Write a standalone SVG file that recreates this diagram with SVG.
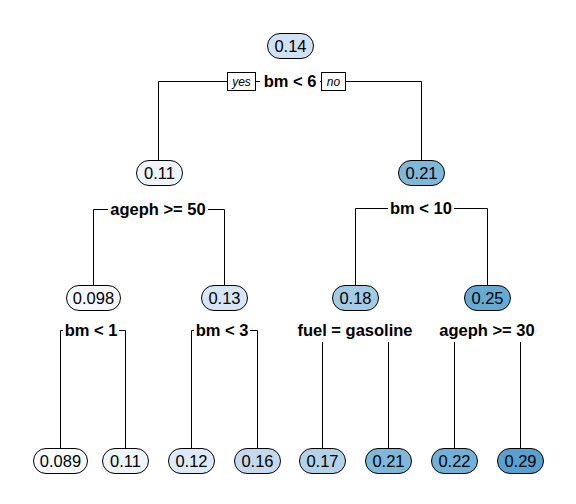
<svg xmlns="http://www.w3.org/2000/svg" width="576" height="504" viewBox="0 0 576 504">
<style>
.n{stroke:#000;stroke-width:1}
.v{font-family:"Liberation Sans",Arial,sans-serif;font-size:16.5px;text-anchor:middle;fill:#000}
.s{font-family:"Liberation Sans",Arial,sans-serif;font-size:16.5px;font-weight:bold;text-anchor:middle;fill:#000}
.yn{font-family:"Liberation Sans",Arial,sans-serif;font-size:12px;font-style:italic;text-anchor:middle;fill:#000}
.c{stroke:#000;stroke-width:1;fill:none}
.bg{fill:#fff}
</style>
<rect width="576" height="504" fill="#fff"/>
<g id="connectors">
<path class="c" d="M158.5 160V81.5H421.5V160"/>
<path class="c" d="M93.5 285V209.5H224.5V285"/>
<path class="c" d="M355.5 285V208.5H487.5V285"/>
<path class="c" d="M60.5 448V330.5H125.5V448"/>
<path class="c" d="M191.5 448V330.5H257.5V448"/>
<path class="c" d="M322.5 448V330.5H388.5V448"/>
<path class="c" d="M454.5 448V330.5H520.5V448"/>
</g>
<g id="split-root">
<rect class="bg" x="260" y="71" width="60" height="20"/>
<text class="s" x="290" y="87">bm &lt; 6</text>
<rect x="227.5" y="72.5" width="28" height="18" fill="#fff" stroke="#000"/>
<text class="yn" x="241.5" y="86">yes</text>
<rect x="321.5" y="72.5" width="24" height="18" fill="#fff" stroke="#000"/>
<text class="yn" x="333.5" y="86">no</text>
</g>
<g id="split-ageph50">
<rect class="bg" x="108" y="200" width="100" height="20"/>
<text class="s" x="158" y="215">ageph &gt;= 50</text>
</g>
<g id="split-bm10">
<rect class="bg" x="388" y="199" width="66" height="20"/>
<text class="s" x="421" y="214">bm &lt; 10</text>
</g>
<g id="split-bm1">
<rect class="bg" x="63" y="321" width="56" height="20"/>
<text class="s" x="91" y="336">bm &lt; 1</text>
</g>
<g id="split-bm3">
<rect class="bg" x="194" y="321" width="56" height="20"/>
<text class="s" x="222" y="336">bm &lt; 3</text>
</g>
<g id="split-fuel">
<rect class="bg" x="295" y="321" width="120" height="21"/>
<text class="s" x="355" y="336">fuel = gasoline</text>
</g>
<g id="split-ageph30">
<rect class="bg" x="436" y="321" width="102" height="21"/>
<text class="s" x="487" y="336">ageph &gt;= 30</text>
</g>
<g id="node-root"><rect class="n" x="267.5" y="33.5" width="46" height="25" rx="12.5" fill="#d0e1f2"/><text class="v" x="290.5" y="52">0.14</text></g>
<g id="node-l1a"><rect class="n" x="136.5" y="160.5" width="46" height="25" rx="12.5" fill="#edf4fb"/><text class="v" x="159.5" y="179">0.11</text></g>
<g id="node-l1b"><rect class="n" x="398.5" y="160.5" width="46" height="25" rx="12.5" fill="#7fb7d9"/><text class="v" x="421.5" y="179">0.21</text></g>
<g id="node-l2a"><rect class="n" x="66.5" y="285.5" width="54" height="25" rx="12.5" fill="#f4f8fd"/><text class="v" x="93.5" y="304">0.098</text></g>
<g id="node-l2b"><rect class="n" x="201.5" y="285.5" width="46" height="25" rx="12.5" fill="#d6e6f4"/><text class="v" x="224.5" y="304">0.13</text></g>
<g id="node-l2c"><rect class="n" x="332.5" y="285.5" width="46" height="25" rx="12.5" fill="#a5cae3"/><text class="v" x="355.5" y="304">0.18</text></g>
<g id="node-l2d"><rect class="n" x="464.5" y="285.5" width="46" height="25" rx="12.5" fill="#66aad4"/><text class="v" x="487.5" y="304">0.25</text></g>
<g id="leaf1"><rect class="n" x="33.5" y="448.5" width="54" height="25" rx="12.5" fill="#f7fbff"/><text class="v" x="60.5" y="467">0.089</text></g>
<g id="leaf2"><rect class="n" x="102.5" y="448.5" width="46" height="25" rx="12.5" fill="#edf4fb"/><text class="v" x="125.5" y="467">0.11</text></g>
<g id="leaf3"><rect class="n" x="168.5" y="448.5" width="46" height="25" rx="12.5" fill="#dce9f6"/><text class="v" x="191.5" y="467">0.12</text></g>
<g id="leaf4"><rect class="n" x="234.5" y="448.5" width="46" height="25" rx="12.5" fill="#c4d9ee"/><text class="v" x="257.5" y="467">0.16</text></g>
<g id="leaf5"><rect class="n" x="299.5" y="448.5" width="46" height="25" rx="12.5" fill="#b1d2e7"/><text class="v" x="322.5" y="467">0.17</text></g>
<g id="leaf6"><rect class="n" x="365.5" y="448.5" width="46" height="25" rx="12.5" fill="#7fb7d9"/><text class="v" x="388.5" y="467">0.21</text></g>
<g id="leaf7"><rect class="n" x="431.5" y="448.5" width="46" height="25" rx="12.5" fill="#72b1d7"/><text class="v" x="454.5" y="467">0.22</text></g>
<g id="leaf8"><rect class="n" x="497.5" y="448.5" width="46" height="25" rx="12.5" fill="#5aa0cf"/><text class="v" x="520.5" y="467">0.29</text></g>
</svg>
